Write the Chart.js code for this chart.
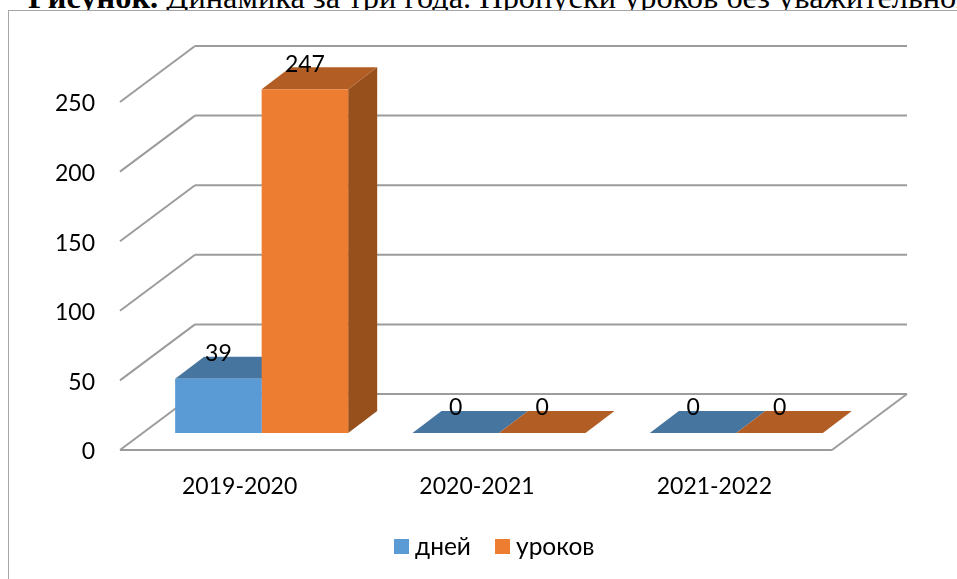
<!DOCTYPE html>
<html>
<head>
<meta charset="utf-8">
<title>Пропуски уроков</title>
<script src="https://cdn.jsdelivr.net/npm/chart.js@4"></script>
<style>
  html, body { margin:0; padding:0; background:#fff; overflow:hidden; }
  #title { position:absolute; left:28px; top:0; width:929px; height:10px; white-space:nowrap; overflow:hidden;
    font:32.4px/30px "Liberation Serif", serif; color:#000; }
  #title span { display:block; margin-top:-18px; }
  #frame { position:absolute; left:8px; top:10px; right:0; bottom:0; border-top:1px solid #a6a6a6; border-left:1px solid #a6a6a6; }
  #chart { position:absolute; left:0; top:0; }
</style>
</head>
<body>
<div id="title"><span><b>Рисунок.</b> Динамика за три года. Пропуски уроков без уважительной</span></div>
<div id="frame"></div>
<canvas id="chart" width="957" height="579"></canvas>
<script>
const categories = ["2019-2020", "2020-2021", "2021-2022"];
const daysValues = [39, 0, 0];
const lessonsValues = [247, 0, 0];
const yTicks = [0, 50, 100, 150, 200, 250];

// perspective offsets, relative to the plane the bars stand on
const front = { x:-23, y:17 };
const back = { x:52, y:-39 };
const barDepth = { x:29, y:-22 };
const gridColor = "#9c9c9c";
const topColors = ["#46759f", "#b15d23"];
const sideColors = ["#3d678d", "#974f1c"];
// legend is drawn by hand, the built-in one keeps a wider gap after the box
const legendBoxX = [394, 495];
const legendY = 539;

function poly(ctx, pts, color){
  ctx.fillStyle = color;
  ctx.beginPath();
  pts.forEach((p,i)=> i ? ctx.lineTo(p[0],p[1]) : ctx.moveTo(p[0],p[1]));
  ctx.closePath();
  ctx.fill();
}

function line(ctx, x1, y1, x2, y2){
  ctx.beginPath();
  ctx.moveTo(x1,y1);
  ctx.lineTo(x2,y2);
  ctx.stroke();
}

const box3d = {
  id:"box3d",
  beforeDatasetsDraw(chart){
    const ctx = chart.ctx, area = chart.chartArea, yScale = chart.scales.y;
    ctx.save();
    ctx.strokeStyle = gridColor;
    ctx.lineWidth = 2;
    yScale.ticks.forEach(t=>{
      const y = yScale.getPixelForValue(t.value);
      line(ctx, area.left+front.x, y+front.y, area.left+back.x, y+back.y);
      line(ctx, area.left+back.x, y+back.y, area.right+back.x, y+back.y);
    });
    const y0 = yScale.getPixelForValue(0);
    line(ctx, area.left+front.x, y0+front.y, area.right+front.x, y0+front.y);
    line(ctx, area.right+front.x, y0+front.y, area.right+back.x, y0+back.y);

    chart.data.datasets.forEach((ds,d)=>{
      chart.getDatasetMeta(d).data.forEach(el=>{
        const l = el.x-el.width/2, r = el.x+el.width/2;
        poly(ctx, [[r,el.y],[r+barDepth.x,el.y+barDepth.y],[r+barDepth.x,el.base+barDepth.y],[r,el.base]], sideColors[d]);
        poly(ctx, [[l,el.y],[l+barDepth.x,el.y+barDepth.y],[r+barDepth.x,el.y+barDepth.y],[r,el.y]], topColors[d]);
      });
    });
    ctx.restore();
  },
  afterDatasetsDraw(chart){
    const ctx = chart.ctx;
    ctx.save();
    ctx.fillStyle = "#000";
    ctx.font = '23px Lato';
    ctx.textAlign = "center";
    ctx.textBaseline = "middle";
    chart.data.datasets.forEach((ds,d)=>{
      chart.getDatasetMeta(d).data.forEach((el,i)=>{
        ctx.fillText(ds.data[i], el.x, el.y-25);
      });
    });
    ctx.font = '24.5px Lato';
    ctx.textAlign = "left";
    chart.data.datasets.forEach((ds,d)=>{
      ctx.fillStyle = ds.backgroundColor;
      ctx.fillRect(legendBoxX[d], legendY, 15, 15);
      ctx.fillStyle = "#000";
      ctx.fillText(ds.label, legendBoxX[d]+21, legendY+8);
    });
    ctx.restore();
  }
};

new Chart(document.getElementById("chart").getContext("2d"), {
  type:"bar",
  data:{
    labels:categories,
    datasets:[
      { label:"дней", data:daysValues, backgroundColor:"#5b9bd5", borderWidth:0 },
      { label:"уроков", data:lessonsValues, backgroundColor:"#ed7d31", borderWidth:0 }
    ]
  },
  options:{
    responsive:false,
    animation:false,
    layout:{ padding:{ left:0, top:85, right:102, bottom:0 } },
    datasets:{ bar:{ categoryPercentage:0.729, barPercentage:1 } },
    scales:{
      x:{
        afterFit(s){ s.height = 146; },
        grid:{ display:false },
        border:{ display:false },
        ticks:{ color:"#000", font:{ family:"Lato", size:23 }, labelOffset:-22, padding:32, maxRotation:0 }
      },
      y:{
        min:yTicks[0],
        max:yTicks[yTicks.length-1],
        afterFit(s){ s.width = 143; },
        grid:{ display:false },
        border:{ display:false },
        ticks:{ stepSize:yTicks[1]-yTicks[0], color:"#000", font:{ family:"Lato", size:23 }, labelOffset:19, padding:40 }
      }
    },
    plugins:{
      title:{ display:false },
      tooltip:{ enabled:false },
      legend:{ display:false }
    }
  },
  plugins:[box3d]
});
</script>
</body>
</html>
